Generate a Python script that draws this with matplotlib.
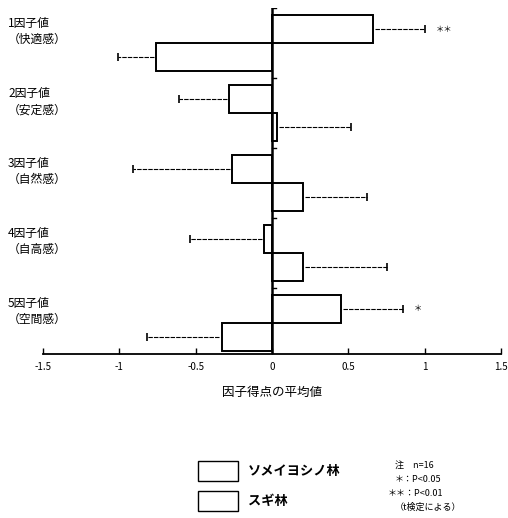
import matplotlib
matplotlib.use("Agg")
import matplotlib.pyplot as plt
import matplotlib.patches as mpatches

plt.rcParams['font.family'] = ['Noto Sans CJK JP', 'DejaVu Sans']

factors = ["1因子値\n（快適感）", "2因子値\n（安定感）", "3因子値\n（自然感）",
           "4因子値\n（自高感）", "5因子値\n（空間感）"]
sakura = [0.66, -0.28, -0.26, -0.05, 0.45]      # ソメイヨシノ林 (upper bar)
sakura_err = [1.00, -0.61, -0.91, -0.54, 0.86]  # end of error line
sugi = [-0.76, 0.03, 0.20, 0.20, -0.33]         # スギ林 (lower bar)
sugi_err = [-1.01, 0.52, 0.62, 0.75, -0.82]
sakura_sig = ["＊＊", "", "", "", "＊"]
sugi_sig = ["", "", "", "", ""]
xticks = [-1.5, -1, -0.5, 0, 0.5, 1, 1.5]
xticklabels = ["-1.5", "-1", "-0.5", "0", "0.5", "1", "1.5"]

fig = plt.figure(figsize=(5.08, 5.18), dpi=100)
ax = fig.add_axes([43/508, 1-354/518, (501-43)/508, (354-8)/518])

pitch = 2.5
top_off = 0.25
ax.set_xlim(-1.5, 1.5)
ax.set_ylim(top_off + pitch*4 + 2.11, 0)

def draw(vals, errs, sigs, offset):
    for i, (v, e, s) in enumerate(zip(vals, errs, sigs)):
        yc = top_off + pitch*i + offset
        ax.barh(yc, v, height=1.0, left=0, color='white', edgecolor='black',
                linewidth=1.4, zorder=2)
        sign = 1 if e >= 0 else -1
        gap = 0.015 * sign
        ax.plot([v + gap, e], [yc, yc], color='black', lw=0.8,
                linestyle=(0, (4, 1)), zorder=1)
        ax.plot([e], [yc], marker='|', color='black', markersize=6, mew=1.2)
        if s:
            ax.text(e + 0.07*sign, yc, s, ha='left' if sign > 0 else 'right',
                    va='center', fontsize=6)

draw(sakura, sakura_err, sakura_sig, 0.5)
draw(sugi, sugi_err, sugi_sig, 1.5)

for i, lab in enumerate(factors):
    yc = top_off + pitch*i + 0.6
    fig.text(8/508, 1 - (8 + yc*28)/518, lab, ha='left', va='center',
             fontsize=8.5, linespacing=1.3)

# zero line
ax.axvline(0, color='black', lw=1.8, zorder=3)
for i in range(5):
    yb = pitch*i
    ax.plot([0, 0.025], [yb, yb], color='black', lw=1)

for sp in ['top', 'right', 'left']:
    ax.spines[sp].set_visible(False)
ax.spines['bottom'].set_linewidth(1.3)
ax.set_yticks([])
ax.set_xticks(xticks)
ax.set_xticklabels(xticklabels, fontsize=7)
ax.tick_params(axis='x', direction='in', length=4, width=1, pad=6)
ax.set_xlabel("因子得点の平均値", fontsize=9, labelpad=10)

# legend
for k, (lab, yy) in enumerate([("ソメイヨシノ林", 461), ("スギ林", 491)]):
    r = mpatches.Rectangle((198/508, 1 - (yy+20)/518), 40/508, 20/518,
                           transform=fig.transFigure, facecolor='white',
                           edgecolor='black', lw=1)
    fig.add_artist(r)
    fig.text(248/508, 1 - (yy+10)/518, lab, fontsize=9.5, fontweight='bold',
             ha='left', va='center')

notes = ["注　n=16", "＊：P<0.05", "＊＊：P<0.01", "（t検定による）"]
for j, n in enumerate(notes):
    fig.text(395/508 if j != 2 else 388/508, 1 - (465 + j*14)/518, n,
             fontsize=6.5, ha='left', va='center')

fig.savefig("out.png", dpi=100)
